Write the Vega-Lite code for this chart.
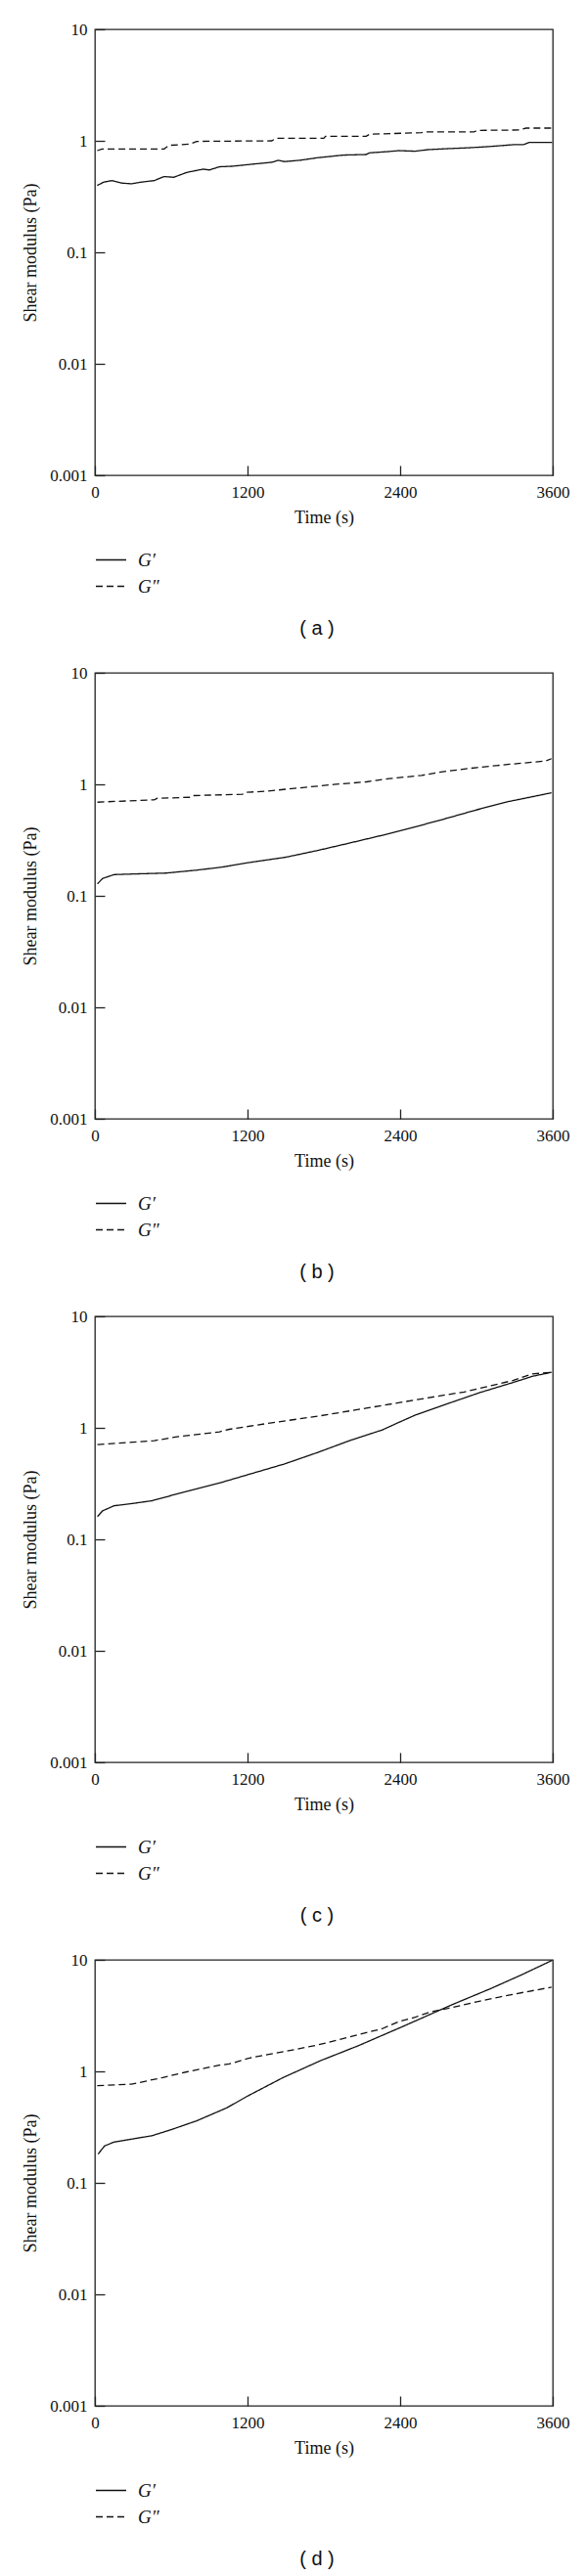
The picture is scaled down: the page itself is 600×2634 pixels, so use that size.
{
  "$schema": "https://vega.github.io/schema/vega-lite/v6.json",
  "padding": {"left": 22, "top": 20, "right": 5, "bottom": 4},
  "background": "white",
  "spacing": 24,
  "config": {
    "view": {"stroke": "#222", "strokeWidth": 1.3},
    "axis": {
      "grid": false, "domain": false, "tickSize": -10, "tickColor": "#222", "tickWidth": 1.3,
      "labelFont": "Liberation Serif", "labelFontSize": 17, "labelColor": "#111",
      "titleFont": "Liberation Serif", "titleFontSize": 18, "titleFontWeight": "normal", "titleColor": "#111",
      "labelOverlap": false, "labelFlush": false
    },
    "legend": {
      "orient": "bottom", "direction": "vertical", "title": null, "symbolType": "stroke", "symbolSize": 961,
      "symbolStrokeColor": "#111", "symbolStrokeWidth": 1.3, "labelFont": "Liberation Serif",
      "labelFontStyle": "italic", "labelFontSize": 19, "labelColor": "#111", "labelOffset": 11, "rowPadding": -10, "offset": 18
    },
    "title": {"orient": "bottom", "font": "Liberation Sans", "fontSize": 20, "fontWeight": "normal", "color": "#111", "anchor": "middle", "frame": "group", "offset": 23, "dx": -7}
  },
  "datasets": {
    "rheo": [
      {"p": "a", "s": "G′", "t": 18, "v": 0.398}, {"p": "a", "s": "G′", "t": 69, "v": 0.426}, {"p": "a", "s": "G′", "t": 133, "v": 0.44}, {"p": "a", "s": "G′", "t": 210, "v": 0.418}, {"p": "a", "s": "G′", "t": 287, "v": 0.412}, {"p": "a", "s": "G′", "t": 364, "v": 0.426}, {"p": "a", "s": "G′", "t": 467, "v": 0.44}, {"p": "a", "s": "G′", "t": 544, "v": 0.478}, {"p": "a", "s": "G′", "t": 620, "v": 0.471}, {"p": "a", "s": "G′", "t": 723, "v": 0.521}, {"p": "a", "s": "G′", "t": 851, "v": 0.557}, {"p": "a", "s": "G′", "t": 900, "v": 0.548}, {"p": "a", "s": "G′", "t": 979, "v": 0.585}, {"p": "a", "s": "G′", "t": 1082, "v": 0.592}, {"p": "a", "s": "G′", "t": 1236, "v": 0.617}, {"p": "a", "s": "G′", "t": 1390, "v": 0.642}, {"p": "a", "s": "G′", "t": 1441, "v": 0.668}, {"p": "a", "s": "G′", "t": 1492, "v": 0.651}, {"p": "a", "s": "G′", "t": 1620, "v": 0.671}, {"p": "a", "s": "G′", "t": 1749, "v": 0.705}, {"p": "a", "s": "G′", "t": 1954, "v": 0.745}, {"p": "a", "s": "G′", "t": 2133, "v": 0.754}, {"p": "a", "s": "G′", "t": 2159, "v": 0.78}, {"p": "a", "s": "G′", "t": 2300, "v": 0.8}, {"p": "a", "s": "G′", "t": 2390, "v": 0.817}, {"p": "a", "s": "G′", "t": 2518, "v": 0.807}, {"p": "a", "s": "G′", "t": 2621, "v": 0.834}, {"p": "a", "s": "G′", "t": 2775, "v": 0.851}, {"p": "a", "s": "G′", "t": 2903, "v": 0.863}, {"p": "a", "s": "G′", "t": 3031, "v": 0.878}, {"p": "a", "s": "G′", "t": 3159, "v": 0.899}, {"p": "a", "s": "G′", "t": 3287, "v": 0.923}, {"p": "a", "s": "G′", "t": 3370, "v": 0.925}, {"p": "a", "s": "G′", "t": 3415, "v": 0.968}, {"p": "a", "s": "G′", "t": 3595, "v": 0.968},
      {"p": "a", "s": "G″", "t": 18, "v": 0.817}, {"p": "a", "s": "G″", "t": 56, "v": 0.845}, {"p": "a", "s": "G″", "t": 544, "v": 0.845}, {"p": "a", "s": "G″", "t": 582, "v": 0.911}, {"p": "a", "s": "G″", "t": 749, "v": 0.935}, {"p": "a", "s": "G″", "t": 800, "v": 0.989}, {"p": "a", "s": "G″", "t": 1390, "v": 1.0}, {"p": "a", "s": "G″", "t": 1428, "v": 1.056}, {"p": "a", "s": "G″", "t": 1800, "v": 1.056}, {"p": "a", "s": "G″", "t": 1813, "v": 1.099}, {"p": "a", "s": "G″", "t": 2133, "v": 1.099}, {"p": "a", "s": "G″", "t": 2159, "v": 1.145}, {"p": "a", "s": "G″", "t": 2569, "v": 1.185}, {"p": "a", "s": "G″", "t": 2595, "v": 1.2}, {"p": "a", "s": "G″", "t": 2980, "v": 1.2}, {"p": "a", "s": "G″", "t": 3005, "v": 1.241}, {"p": "a", "s": "G″", "t": 3339, "v": 1.25}, {"p": "a", "s": "G″", "t": 3390, "v": 1.3}, {"p": "a", "s": "G″", "t": 3590, "v": 1.3},
      {"p": "b", "s": "G′", "t": 20, "v": 0.128}, {"p": "b", "s": "G′", "t": 60, "v": 0.143}, {"p": "b", "s": "G′", "t": 150, "v": 0.155}, {"p": "b", "s": "G′", "t": 300, "v": 0.157}, {"p": "b", "s": "G′", "t": 560, "v": 0.16}, {"p": "b", "s": "G′", "t": 800, "v": 0.17}, {"p": "b", "s": "G′", "t": 1000, "v": 0.181}, {"p": "b", "s": "G′", "t": 1200, "v": 0.198}, {"p": "b", "s": "G′", "t": 1500, "v": 0.222}, {"p": "b", "s": "G′", "t": 1750, "v": 0.255}, {"p": "b", "s": "G′", "t": 2000, "v": 0.297}, {"p": "b", "s": "G′", "t": 2250, "v": 0.347}, {"p": "b", "s": "G′", "t": 2500, "v": 0.41}, {"p": "b", "s": "G′", "t": 2750, "v": 0.49}, {"p": "b", "s": "G′", "t": 3000, "v": 0.59}, {"p": "b", "s": "G′", "t": 3250, "v": 0.7}, {"p": "b", "s": "G′", "t": 3500, "v": 0.8}, {"p": "b", "s": "G′", "t": 3590, "v": 0.84},
      {"p": "b", "s": "G″", "t": 20, "v": 0.692}, {"p": "b", "s": "G″", "t": 466, "v": 0.727}, {"p": "b", "s": "G″", "t": 492, "v": 0.75}, {"p": "b", "s": "G″", "t": 749, "v": 0.765}, {"p": "b", "s": "G″", "t": 774, "v": 0.793}, {"p": "b", "s": "G″", "t": 1159, "v": 0.814}, {"p": "b", "s": "G″", "t": 1185, "v": 0.847}, {"p": "b", "s": "G″", "t": 1364, "v": 0.87}, {"p": "b", "s": "G″", "t": 1518, "v": 0.908}, {"p": "b", "s": "G″", "t": 1697, "v": 0.951}, {"p": "b", "s": "G″", "t": 1877, "v": 0.996}, {"p": "b", "s": "G″", "t": 2133, "v": 1.052}, {"p": "b", "s": "G″", "t": 2313, "v": 1.125}, {"p": "b", "s": "G″", "t": 2569, "v": 1.204}, {"p": "b", "s": "G″", "t": 2749, "v": 1.305}, {"p": "b", "s": "G″", "t": 3005, "v": 1.416}, {"p": "b", "s": "G″", "t": 3261, "v": 1.514}, {"p": "b", "s": "G″", "t": 3543, "v": 1.618}, {"p": "b", "s": "G″", "t": 3590, "v": 1.7},
      {"p": "c", "s": "G′", "t": 20, "v": 0.16}, {"p": "c", "s": "G′", "t": 60, "v": 0.18}, {"p": "c", "s": "G′", "t": 150, "v": 0.2}, {"p": "c", "s": "G′", "t": 300, "v": 0.21}, {"p": "c", "s": "G′", "t": 450, "v": 0.222}, {"p": "c", "s": "G′", "t": 723, "v": 0.27}, {"p": "c", "s": "G′", "t": 979, "v": 0.32}, {"p": "c", "s": "G′", "t": 1236, "v": 0.39}, {"p": "c", "s": "G′", "t": 1492, "v": 0.475}, {"p": "c", "s": "G′", "t": 1749, "v": 0.6}, {"p": "c", "s": "G′", "t": 2005, "v": 0.77}, {"p": "c", "s": "G′", "t": 2262, "v": 0.96}, {"p": "c", "s": "G′", "t": 2390, "v": 1.12}, {"p": "c", "s": "G′", "t": 2518, "v": 1.3}, {"p": "c", "s": "G′", "t": 2775, "v": 1.65}, {"p": "c", "s": "G′", "t": 3031, "v": 2.08}, {"p": "c", "s": "G′", "t": 3287, "v": 2.55}, {"p": "c", "s": "G′", "t": 3441, "v": 2.9}, {"p": "c", "s": "G′", "t": 3590, "v": 3.15},
      {"p": "c", "s": "G″", "t": 20, "v": 0.708}, {"p": "c", "s": "G″", "t": 467, "v": 0.768}, {"p": "c", "s": "G″", "t": 646, "v": 0.832}, {"p": "c", "s": "G″", "t": 979, "v": 0.921}, {"p": "c", "s": "G″", "t": 1056, "v": 0.97}, {"p": "c", "s": "G″", "t": 1390, "v": 1.11}, {"p": "c", "s": "G″", "t": 1749, "v": 1.27}, {"p": "c", "s": "G″", "t": 2133, "v": 1.5}, {"p": "c", "s": "G″", "t": 2518, "v": 1.78}, {"p": "c", "s": "G″", "t": 2903, "v": 2.1}, {"p": "c", "s": "G″", "t": 3287, "v": 2.66}, {"p": "c", "s": "G″", "t": 3441, "v": 3.05}, {"p": "c", "s": "G″", "t": 3590, "v": 3.15},
      {"p": "d", "s": "G′", "t": 25, "v": 0.181}, {"p": "d", "s": "G′", "t": 75, "v": 0.214}, {"p": "d", "s": "G′", "t": 149, "v": 0.232}, {"p": "d", "s": "G′", "t": 300, "v": 0.248}, {"p": "d", "s": "G′", "t": 450, "v": 0.265}, {"p": "d", "s": "G′", "t": 600, "v": 0.3}, {"p": "d", "s": "G′", "t": 800, "v": 0.36}, {"p": "d", "s": "G′", "t": 1036, "v": 0.47}, {"p": "d", "s": "G′", "t": 1200, "v": 0.6}, {"p": "d", "s": "G′", "t": 1480, "v": 0.88}, {"p": "d", "s": "G′", "t": 1776, "v": 1.25}, {"p": "d", "s": "G′", "t": 2072, "v": 1.7}, {"p": "d", "s": "G′", "t": 2412, "v": 2.5}, {"p": "d", "s": "G′", "t": 2812, "v": 3.98}, {"p": "d", "s": "G′", "t": 3108, "v": 5.5}, {"p": "d", "s": "G′", "t": 3350, "v": 7.3}, {"p": "d", "s": "G′", "t": 3595, "v": 9.9},
      {"p": "d", "s": "G″", "t": 18, "v": 0.743}, {"p": "d", "s": "G″", "t": 287, "v": 0.767}, {"p": "d", "s": "G″", "t": 534, "v": 0.88}, {"p": "d", "s": "G″", "t": 723, "v": 0.99}, {"p": "d", "s": "G″", "t": 979, "v": 1.136}, {"p": "d", "s": "G″", "t": 1056, "v": 1.166}, {"p": "d", "s": "G″", "t": 1236, "v": 1.336}, {"p": "d", "s": "G″", "t": 1492, "v": 1.507}, {"p": "d", "s": "G″", "t": 1749, "v": 1.72}, {"p": "d", "s": "G″", "t": 2005, "v": 2.04}, {"p": "d", "s": "G″", "t": 2262, "v": 2.42}, {"p": "d", "s": "G″", "t": 2390, "v": 2.8}, {"p": "d", "s": "G″", "t": 2518, "v": 3.06}, {"p": "d", "s": "G″", "t": 2646, "v": 3.43}, {"p": "d", "s": "G″", "t": 2775, "v": 3.67}, {"p": "d", "s": "G″", "t": 3031, "v": 4.28}, {"p": "d", "s": "G″", "t": 3287, "v": 4.91}, {"p": "d", "s": "G″", "t": 3590, "v": 5.69}
    ]
  },
  "resolve": {"scale": {"strokeDash": "independent"}, "legend": {"strokeDash": "independent"}},
  "vconcat": [
    {
      "width": 468, "height": 456, "title": "( a )",
      "data": {"name": "rheo"},
      "transform": [{"filter": "datum.p === 'a'"}],
      "mark": {"type": "line", "color": "#111", "strokeWidth": 1.3},
      "encoding": {
        "x": {"field": "t", "type": "quantitative", "scale": {"domain": [0, 3600]}, "axis": {"values": [0, 1200, 2400, 3600], "format": "d", "title": "Time (s)", "labelPadding": 19, "titlePadding": 9}},
        "y": {"field": "v", "type": "quantitative", "scale": {"type": "log", "domain": [0.001, 10]}, "axis": {"values": [0.001, 0.01, 0.1, 1, 10], "format": "~g", "title": "Shear modulus (Pa)", "labelPadding": 18, "titlePadding": 10}},
        "strokeDash": {"field": "s", "type": "nominal", "scale": {"domain": ["G′", "G″"], "range": [[1, 0], [7, 4]]}}
      }
    },
    {
      "width": 468, "height": 456, "title": "( b )",
      "data": {"name": "rheo"},
      "transform": [{"filter": "datum.p === 'b'"}],
      "mark": {"type": "line", "color": "#111", "strokeWidth": 1.3},
      "encoding": {
        "x": {"field": "t", "type": "quantitative", "scale": {"domain": [0, 3600]}, "axis": {"values": [0, 1200, 2400, 3600], "format": "d", "title": "Time (s)", "labelPadding": 19, "titlePadding": 9}},
        "y": {"field": "v", "type": "quantitative", "scale": {"type": "log", "domain": [0.001, 10]}, "axis": {"values": [0.001, 0.01, 0.1, 1, 10], "format": "~g", "title": "Shear modulus (Pa)", "labelPadding": 18, "titlePadding": 10}},
        "strokeDash": {"field": "s", "type": "nominal", "scale": {"domain": ["G′", "G″"], "range": [[1, 0], [7, 4]]}}
      }
    },
    {
      "width": 468, "height": 456, "title": "( c )",
      "data": {"name": "rheo"},
      "transform": [{"filter": "datum.p === 'c'"}],
      "mark": {"type": "line", "color": "#111", "strokeWidth": 1.3},
      "encoding": {
        "x": {"field": "t", "type": "quantitative", "scale": {"domain": [0, 3600]}, "axis": {"values": [0, 1200, 2400, 3600], "format": "d", "title": "Time (s)", "labelPadding": 19, "titlePadding": 9}},
        "y": {"field": "v", "type": "quantitative", "scale": {"type": "log", "domain": [0.001, 10]}, "axis": {"values": [0.001, 0.01, 0.1, 1, 10], "format": "~g", "title": "Shear modulus (Pa)", "labelPadding": 18, "titlePadding": 10}},
        "strokeDash": {"field": "s", "type": "nominal", "scale": {"domain": ["G′", "G″"], "range": [[1, 0], [7, 4]]}}
      }
    },
    {
      "width": 468, "height": 456, "title": "( d )",
      "data": {"name": "rheo"},
      "transform": [{"filter": "datum.p === 'd'"}],
      "mark": {"type": "line", "color": "#111", "strokeWidth": 1.3},
      "encoding": {
        "x": {"field": "t", "type": "quantitative", "scale": {"domain": [0, 3600]}, "axis": {"values": [0, 1200, 2400, 3600], "format": "d", "title": "Time (s)", "labelPadding": 19, "titlePadding": 9}},
        "y": {"field": "v", "type": "quantitative", "scale": {"type": "log", "domain": [0.001, 10]}, "axis": {"values": [0.001, 0.01, 0.1, 1, 10], "format": "~g", "title": "Shear modulus (Pa)", "labelPadding": 18, "titlePadding": 10}},
        "strokeDash": {"field": "s", "type": "nominal", "scale": {"domain": ["G′", "G″"], "range": [[1, 0], [7, 4]]}}
      }
    }
  ]
}
